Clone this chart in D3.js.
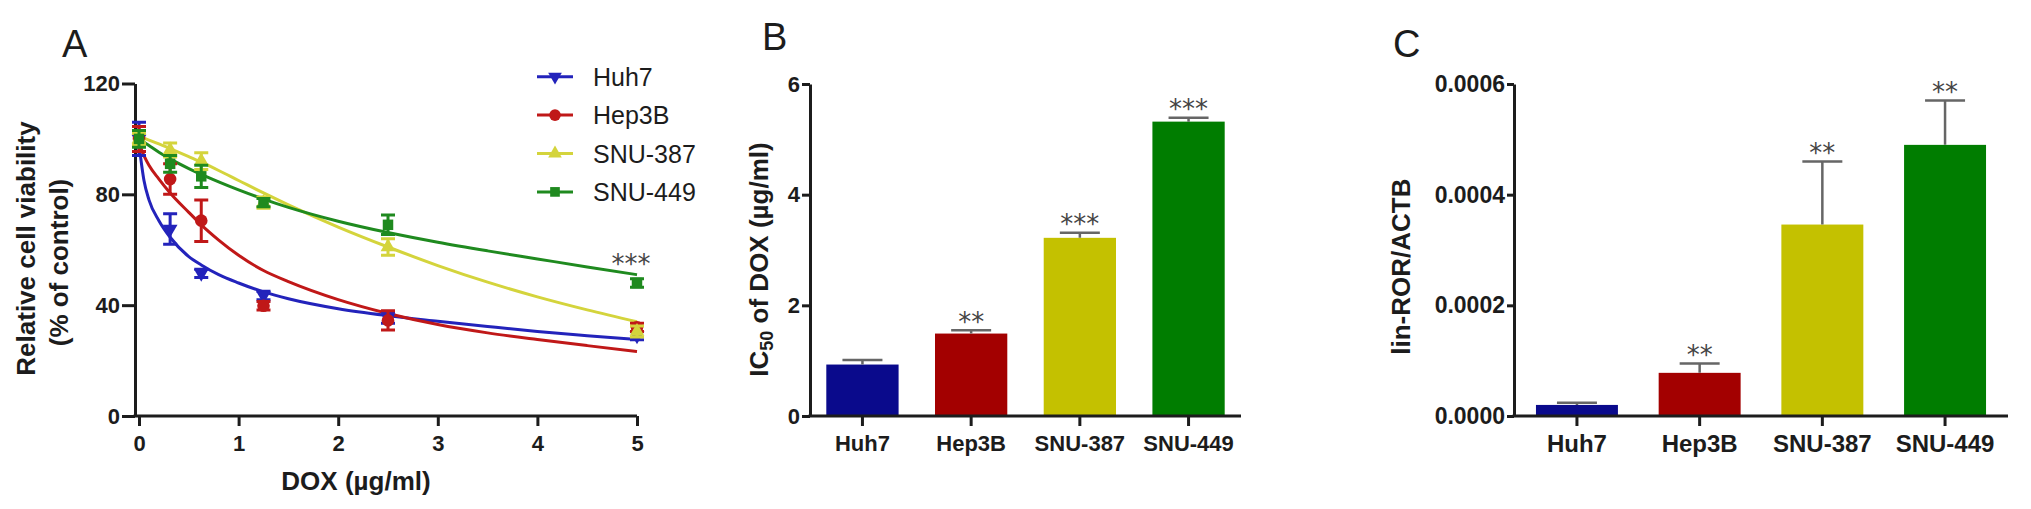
<!DOCTYPE html>
<html>
<head>
<meta charset="utf-8">
<script src="https://cdn.jsdelivr.net/npm/d3@7"></script>
<style>
    body { margin: 0; background: #fff; }
    svg text { font-family: "Liberation Sans", Arial, sans-serif; fill: #1c1c1c; }
    .axis .domain, .axis line { stroke: #1c1c1c; stroke-width: 3; }
    .axis text { font-weight: bold; }
    .title { font-weight: bold; font-size: 26px; }
    .stars { font-family: "DejaVu Sans", sans-serif !important; font-size: 26px; fill: #444 !important; }
</style>
</head>
<body>
<div id="chart"></div>
<script>
// cell lines and colours
const cellLines = ["Huh7", "Hep3B", "SNU-387", "SNU-449"];
const lineColors = ["#2323bb", "#c01818", "#d4d43c", "#1f8a1f"];
const barColors = ["#0a0a8c", "#a30000", "#c4c100", "#007d00"];

// panel A: viability data points (mean, error)
const doses = [0, 0.3125, 0.625, 1.25, 2.5, 5];
const huh7Mean = [100, 67.5, 51.5, 43.5, 35.5, 29];
const huh7Err = [6, 5.5, 1.5, 1.5, 2, 1.5];
const hep3bMean = [100, 85.5, 70.5, 39.8, 34.5, 32];
const hep3bErr = [4.5, 5.5, 7.5, 1.5, 3.5, 1.5];
const snu387Mean = [100, 96, 92, 77, 61, 30.5];
const snu387Err = [2, 2.5, 3, 2, 3, 2];
const snu449Mean = [100, 91, 86.5, 77, 69, 48];
const snu449Err = [3, 3, 4, 1.5, 3.5, 1.5];

// panel A: fitted curves
const fitDoses = [0, 0.05, 0.1, 0.2, 0.3125, 0.5, 0.625, 0.8, 1, 1.25, 1.5, 2, 2.5, 3, 3.5, 4, 4.5, 5];
const huh7Fit = [98, 85, 78, 70.5, 64.5, 57.5, 54.5, 51, 48, 44.8, 42.3, 38.7, 36.2, 34.2, 32.3, 30.5, 29, 27.6];
const hep3bFit = [98.5, 94, 90.5, 85.5, 80.5, 73.5, 69, 63.5, 58, 52.5, 48.5, 42, 37, 33, 30, 27.6, 25.4, 23.3];
const snu387Fit = [101, 100.3, 99.6, 98.2, 96.5, 93.6, 91.6, 88.6, 85, 80.5, 76.2, 68.2, 61, 54.3, 48.3, 43, 38.3, 34];
const snu449Fit = [100, 98.8, 97.6, 95.2, 92.8, 89.3, 87.2, 84.5, 81.6, 78.3, 75.3, 70.3, 66.2, 62.7, 59.6, 56.7, 53.8, 51];

const yTicksA = [0, 40, 80, 120];
const xTicksA = [0, 1, 2, 3, 4, 5];

// panel B: IC50 of DOX
const ic50Mean = [0.93, 1.49, 3.22, 5.32];
const ic50Err = [0.08, 0.06, 0.09, 0.07];
const ic50Stars = ["", "**", "***", "***"];
const yTicksB = [0, 2, 4, 6];

// panel C: lin-ROR / ACTB
const rorMean = [0.00002, 0.000078, 0.000346, 0.00049];
const rorErr = [0.000004, 0.000017, 0.000114, 0.00008];
const rorStars = ["", "**", "**", "**"];
const yTicksC = [0, 0.0002, 0.0004, 0.0006];

document.addEventListener('DOMContentLoaded', function() {

    const svg = d3.select("#chart").append("svg")
        .attr("width", 2031)
        .attr("height", 509);

    function styleAxis(g, size) {
        g.attr("class", "axis").attr("font-size", size).attr("font-family", null);
    }

    // ---------- Panel A ----------
    const xA = d3.scaleLinear().domain([0, 5]).range([139, 637]);
    const yA = d3.scaleLinear().domain([0, 120]).range([416, 83.5]);

    svg.append("g")
        .attr("transform", "translate(135,0)")
        .call(d3.axisLeft(yA).tickValues(yTicksA).tickFormat(d3.format("d"))
            .tickSize(13).tickPadding(2).tickSizeOuter(0))
        .call(g => styleAxis(g, 22));

    const xAxisA = svg.append("g")
        .attr("transform", `translate(0,${yA(0)})`)
        .call(d3.axisBottom(xA).tickValues(xTicksA).tickFormat(d3.format("d"))
            .tickSize(10).tickPadding(9).tickSizeOuter(0))
        .call(g => styleAxis(g, 22));
    xAxisA.select(".domain").remove();
    xAxisA.append("line").attr("x1", 133.5).attr("x2", xA(5)).attr("y1", 0).attr("y2", 0);

    svg.append("text").attr("class", "title")
        .attr("x", 356).attr("y", 490).attr("text-anchor", "middle")
        .text("DOX (µg/ml)");
    svg.append("text").attr("class", "title")
        .attr("transform", "translate(35,248.5) rotate(-90)").attr("text-anchor", "middle")
        .text("Relative cell viability");
    svg.append("text").attr("class", "title")
        .attr("transform", "translate(68,262.5) rotate(-90)").attr("text-anchor", "middle")
        .text("(% of control)");

    const means = [huh7Mean, hep3bMean, snu387Mean, snu449Mean];
    const errs = [huh7Err, hep3bErr, snu387Err, snu449Err];
    const fits = [huh7Fit, hep3bFit, snu387Fit, snu449Fit];
    const symbols = [
        { type: d3.symbolTriangle, size: 95, rot: 180 },
        { type: d3.symbolCircle, size: 125, rot: 0 },
        { type: d3.symbolTriangle, size: 95, rot: 0 },
        { type: d3.symbolSquare, size: 110, rot: 0 }
    ];

    const fitLine = d3.line()
        .x(d => xA(d[0]))
        .y(d => yA(d[1]))
        .curve(d3.curveMonotoneX);

    cellLines.forEach((name, i) => {
        svg.append("path")
            .datum(fitDoses.map((x, k) => [x, fits[i][k]]))
            .attr("fill", "none")
            .attr("stroke", lineColors[i])
            .attr("stroke-width", 3)
            .attr("d", fitLine);
    });

    cellLines.forEach((name, i) => {
        const pts = doses.map((x, k) => ({ x: x, m: means[i][k], e: errs[i][k] }));
        const g = svg.append("g").attr("stroke", lineColors[i]).attr("stroke-width", 3);
        g.selectAll(".eb").data(pts).join("path")
            .attr("fill", "none")
            .attr("d", d => {
                const cx = xA(d.x), y1 = yA(d.m + d.e), y2 = yA(d.m - d.e);
                return `M${cx},${y1}V${y2}M${cx - 7},${y1}H${cx + 7}M${cx - 7},${y2}H${cx + 7}`;
            });
        g.selectAll(".pt").data(pts).join("path")
            .attr("stroke", "none")
            .attr("fill", lineColors[i])
            .attr("transform", d => `translate(${xA(d.x)},${yA(d.m)}) rotate(${symbols[i].rot})`)
            .attr("d", d3.symbol().type(symbols[i].type).size(symbols[i].size));
    });

    svg.append("text").attr("class", "stars")
        .attr("x", xA(5) - 6)
        .attr("y", yA(snu449Mean[5] + snu449Err[5]) - 20 + 0.56 * 26)
        .attr("text-anchor", "middle")
        .text("***");

    // legend
    const legend = svg.append("g");
    cellLines.forEach((name, i) => {
        const cy = 76.7 + i * 38.4;
        legend.append("line")
            .attr("x1", 537).attr("x2", 573).attr("y1", cy).attr("y2", cy)
            .attr("stroke", lineColors[i]).attr("stroke-width", 3);
        legend.append("path")
            .attr("fill", lineColors[i])
            .attr("transform", `translate(555,${cy}) rotate(${symbols[i].rot})`)
            .attr("d", d3.symbol().type(symbols[i].type).size(symbols[i].size * 0.85));
        legend.append("text")
            .attr("x", 593).attr("y", cy + 9)
            .attr("font-size", 25)
            .text(name);
    });

    svg.append("text").attr("x", 62).attr("y", 57).attr("font-size", 38).text("A");

    // ---------- Bar panels ----------
    function barPanel(opts) {
        const x = d3.scaleBand().domain(cellLines).range(opts.xr)
            .paddingInner(opts.pi).paddingOuter(opts.po);
        const y = d3.scaleLinear().domain(opts.yd).range([416, 84]);

        svg.append("g")
            .attr("transform", `translate(${opts.xr[0]},0)`)
            .call(d3.axisLeft(y).tickValues(opts.ticks).tickFormat(opts.fmt)
                .tickSize(opts.tick).tickPadding(2).tickSizeOuter(0))
            .call(g => styleAxis(g, opts.yfs));

        svg.selectAll(null).data(cellLines).join("rect")
            .attr("x", d => x(d))
            .attr("width", x.bandwidth())
            .attr("y", (d, i) => y(opts.mean[i]))
            .attr("height", (d, i) => y(0) - y(opts.mean[i]))
            .attr("fill", (d, i) => barColors[i]);

        svg.selectAll(null).data(cellLines).join("path")
            .attr("fill", "none")
            .attr("stroke", "#666")
            .attr("stroke-width", 2.5)
            .attr("d", (d, i) => {
                const cx = x(d) + x.bandwidth() / 2;
                const y1 = y(opts.mean[i]), y2 = y(opts.mean[i] + opts.err[i]);
                return `M${cx},${y1}V${y2}M${cx - 20},${y2}H${cx + 20}`;
            });

        svg.selectAll(null).data(cellLines).join("text")
            .attr("class", "stars")
            .attr("x", d => x(d) + x.bandwidth() / 2)
            .attr("y", (d, i) => y(opts.mean[i] + opts.err[i]) - 14 + 0.56 * 26)
            .attr("text-anchor", "middle")
            .text((d, i) => opts.stars[i]);

        const xAxis = svg.append("g")
            .attr("transform", `translate(0,${y(0)})`)
            .call(d3.axisBottom(x).tickSize(10).tickPadding(9).tickSizeOuter(0))
            .call(g => styleAxis(g, opts.xfs));
        xAxis.select(".domain").remove();
        xAxis.append("line").attr("x1", opts.xr[0] - 1.5).attr("x2", opts.xr[1]).attr("y1", 0).attr("y2", 0);

        const title = svg.append("text").attr("class", "title")
            .attr("font-size", 27)
            .attr("transform", `translate(${opts.titleX},${opts.titleY}) rotate(-90)`)
            .attr("text-anchor", "middle");
        opts.title(title);

        svg.append("text").attr("x", opts.labelX).attr("y", opts.labelY)
            .attr("font-size", 38).text(opts.label);
    }

    barPanel({
        xr: [810, 1241], pi: 0.335, po: 0.15, yd: [0, 6], ticks: yTicksB, fmt: d3.format("d"),
        tick: 8, yfs: 22, xfs: 22, mean: ic50Mean, err: ic50Err, stars: ic50Stars,
        titleX: 768, titleY: 259.5, label: "B", labelX: 762, labelY: 50,
        title: t => {
            t.append("tspan").text("IC");
            t.append("tspan").attr("font-size", 18).attr("dy", 5).text("50");
            t.append("tspan").attr("dy", -5).text(" of DOX (µg/ml)");
        }
    });

    barPanel({
        xr: [1514, 2008], pi: 0.332, po: 0.179, yd: [0, 0.0006], ticks: yTicksC, fmt: d3.format(".4f"),
        tick: 7, yfs: 23, xfs: 24, mean: rorMean, err: rorErr, stars: rorStars,
        titleX: 1410, titleY: 266.7, label: "C", labelX: 1393, labelY: 57,
        title: t => t.text("lin-ROR/ACTB")
    });
});
</script>
</body>
</html>
